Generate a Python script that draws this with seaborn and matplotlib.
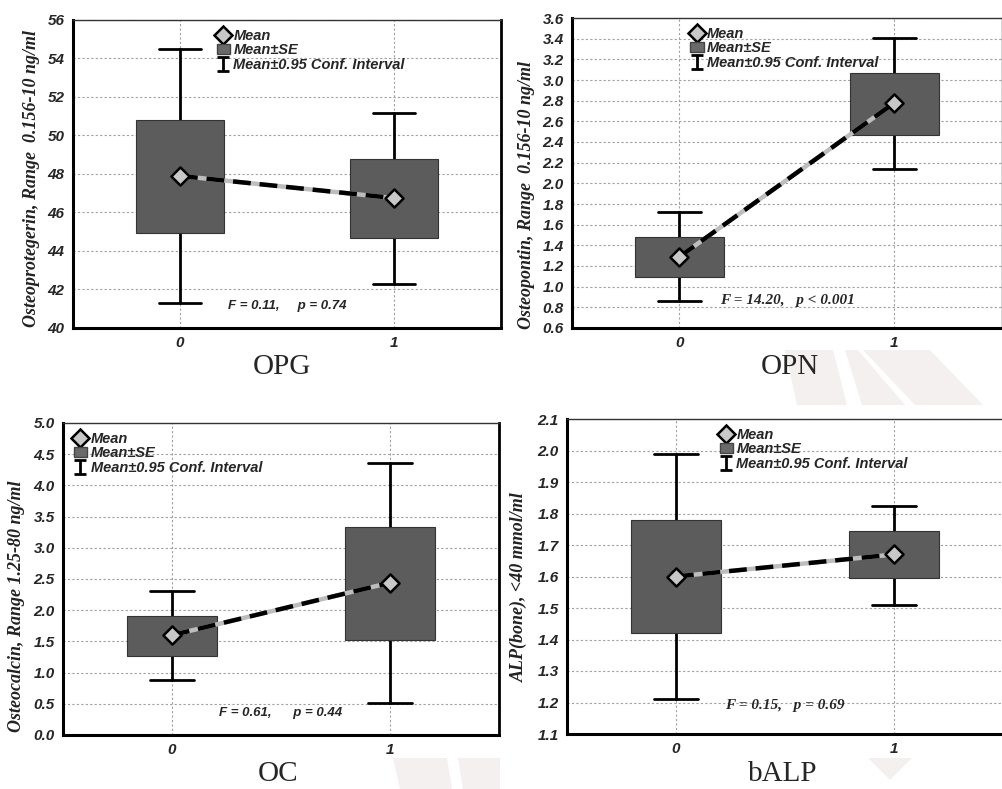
import numpy as np
import pandas as pd
import seaborn as sns
import matplotlib.pyplot as plt
from matplotlib.lines import Line2D
from matplotlib.patches import Patch, Polygon

# data
groups = [0, 1]
titles = ["OPG", "OPN", "OC", "bALP"]
ylabels = ["Osteoprotegerin, Range  0.156-10 ng/ml",
           "Osteopontin, Range  0.156-10 ng/ml",
           "Osteocalcin, Range 1.25-80 ng/ml",
           "ALP(bone), <40 mmol/ml"]
means = [[47.9, 46.75], [1.29, 2.78], [1.60, 2.44], [1.60, 1.67]]
se_low = [[44.95, 44.7], [1.09, 2.47], [1.27, 1.52], [1.42, 1.595]]
se_high = [[50.8, 48.8], [1.48, 3.07], [1.91, 3.33], [1.78, 1.745]]
ci_low = [[41.3, 42.3], [0.86, 2.14], [0.88, 0.52], [1.21, 1.51]]
ci_high = [[54.5, 51.15], [1.72, 3.41], [2.30, 4.36], [1.99, 1.825]]
stats = ["F = 0.11,     p = 0.74", "F = 14.20,   p < 0.001",
         "F = 0.61,      p = 0.44", "F = 0.15,   p = 0.69"]
ylims = [(40, 56, 2), (0.6, 3.6, 0.2), (0.0, 5.0, 0.5), (1.1, 2.1, 0.1)]
yfmt = ["{:.0f}", "{:.1f}", "{:.1f}", "{:.1f}"]

sns.set_style("white")
fig = plt.figure(figsize=(10.03, 7.89), dpi=100)

# faint watermark shapes
wm = "#f5f0f0"
for pts in [[(785, 350), (833, 350), (847, 405), (797, 405)],
            [(845, 350), (858, 350), (905, 405), (862, 405)],
            [(863, 350), (930, 350), (983, 405), (915, 405)],
            [(868, 758), (912, 758), (890, 780)],
            [(393, 758), (447, 758), (452, 789), (400, 789)],
            [(458, 758), (500, 758), (500, 789), (463, 789)]]:
    fig.patches.append(Polygon([(x / 1003, 1 - y / 789) for x, y in pts],
                               closed=True, transform=fig.transFigure,
                               facecolor=wm, edgecolor="none", zorder=0))

boxes = [(73, 20, 501, 328), (572, 18, 1002, 328),
         (63, 423, 499, 735), (567, 419, 1003, 734)]
legend_x = [0.315, 0.255, 0.005, 0.33]
label_xy = [(-0.077, 0.487), (-0.086, 0.43), (-0.087, 0.413), (-0.089, 0.467)]
stat_font = ["sans", "serif", "sans", "serif"]
title_pos = [(282, 367), (790, 367), (278, 774), (783, 774)]

for i in range(4):
    l, t, r, b = boxes[i]
    ax = fig.add_axes([l / 1003, 1 - b / 789, (r - l) / 1003, (b - t) / 789])
    df = pd.DataFrame({"group": groups, "mean": means[i]})

    # CI whiskers
    for g in range(2):
        ax.plot([groups[g], groups[g]], [ci_low[i][g], ci_high[i][g]],
                color="black", lw=2, zorder=2)
        for yv in (ci_low[i][g], ci_high[i][g]):
            ax.plot([groups[g] - 0.1, groups[g] + 0.1], [yv, yv],
                    color="black", lw=2, zorder=2)

    # SE boxes
    heights = np.array(se_high[i]) - np.array(se_low[i])
    ax.bar(groups, heights, bottom=se_low[i], width=0.41,
           color="#5c5c5c", edgecolor="#333333", linewidth=0.8, zorder=3)

    # mean line: gray underneath, black dashes on top
    sns.lineplot(data=df, x="group", y="mean", ax=ax, color="#bdbdbd",
                 lw=3.2, zorder=4)
    sns.lineplot(data=df, x="group", y="mean", ax=ax, color="black",
                 lw=3.2, zorder=5)
    ax.lines[-1].set_dashes([4, 2.0])
    sns.scatterplot(data=df, x="group", y="mean", ax=ax, marker="D", s=85,
                    color="#c8c8c8", edgecolor="black", linewidth=1.8,
                    zorder=6)

    y0, y1, step = ylims[i]
    ticks = np.arange(y0, y1 + step / 2, step)
    ax.set_ylim(y0, y1)
    ax.set_yticks(ticks)
    ax.set_yticklabels([yfmt[i].format(v) for v in ticks],
                       fontsize=11, fontweight="bold", fontstyle="italic",
                       family="Liberation Sans")
    ax.set_xlim(-0.5, 1.5)
    ax.set_xticks(groups)
    ax.set_xticklabels(["0", "1"], fontsize=11, fontweight="bold",
                       fontstyle="italic", family="Liberation Sans")
    ax.tick_params(axis="both", length=0, pad=6)
    ax.set_xlabel("")
    ax.set_ylabel(ylabels[i], fontsize=13, fontweight="bold",
                  fontstyle="italic", family="Liberation Serif",
                  color="#222222")
    ax.yaxis.set_label_coords(*label_xy[i])
    ax.grid(True, color="#a0a0a0", linestyle=(0, (2, 2)), lw=0.8, zorder=0)
    ax.set_axisbelow(True)
    for side in ["left", "bottom"]:
        ax.spines[side].set_linewidth(2.2)
        ax.spines[side].set_color("black")
    for side in ["top", "right"]:
        ax.spines[side].set_linewidth(1.0)
        ax.spines[side].set_color("#333333")
    if i % 2 == 0:
        ax.spines["right"].set_linewidth(2.0)
        ax.spines["right"].set_color("black")

    # legend
    ci_handle = ax.errorbar([np.nan], [np.nan], yerr=[[1], [1]], fmt="none",
                            ecolor="black", elinewidth=2, capsize=4,
                            capthick=2)
    handles = [Line2D([], [], marker="D", ls="none", ms=9.5,
                      markerfacecolor="#c8c8c8", markeredgecolor="black",
                      markeredgewidth=1.8),
               Patch(facecolor="#6a6a6a", edgecolor="#444444"),
               ci_handle]
    ax.legend(handles, ["Mean", "Mean\u00b1SE", "Mean\u00b10.95 Conf. Interval"],
              loc="upper left", bbox_to_anchor=(legend_x[i], 1.0),
              frameon=False, handlelength=0.9, handletextpad=0.25,
              labelspacing=0.05, borderaxespad=0.2,
              prop={"family": "Liberation Sans", "weight": "bold",
                    "style": "italic", "size": 10.5})

    if stat_font[i] == "sans":
        ax.text(0.5, 0.07, stats[i], transform=ax.transAxes, ha="center",
                va="center", fontsize=9.5, fontweight="bold",
                fontstyle="italic", family="Liberation Sans")
    else:
        ax.text(0.5, 0.09, stats[i], transform=ax.transAxes, ha="center",
                va="center", fontsize=11, fontweight="bold",
                fontstyle="italic", family="Liberation Serif")

    tx, ty = title_pos[i]
    fig.text(tx / 1003, 1 - ty / 789, titles[i], ha="center", va="center",
             fontsize=21, family="Liberation Serif")

plt.savefig("out.png", dpi=100)
plt.close()
